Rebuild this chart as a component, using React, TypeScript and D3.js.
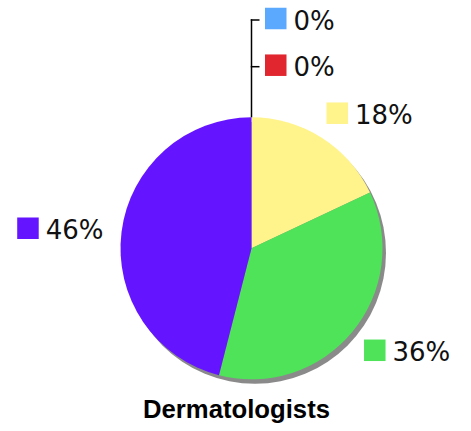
import React, { useRef, useEffect } from 'react';
import * as d3 from 'd3';

const W = 471;
const H = 431;

const labels = ['0%', '0%', '18%', '36%', '46%'];
const values = [0, 0, 18, 36, 46];
const colors = ['#5aa9ff', '#e1262f', '#fff38c', '#4fe35a', '#6514ff'];
const title = 'Dermatologists';

export default function App() {
    const svgRef = useRef<SVGSVGElement>(null);

    useEffect(() => {
        const svg = d3.select(svgRef.current);
        svg.selectAll('*').remove();

        const cx = 251.5;
        const cy = 248.3;
        const r = 131;
        const labelR = 160;

        const slices = values.map((v, i) => ({ v, label: labels[i], color: colors[i] }));
        const pie = d3.pie<any>().value(d => d.v).sort(null);
        const arcs = pie(slices);
        const arc = d3.arc<any>().innerRadius(0).outerRadius(r);

        const g = svg.append('g').attr('transform', `translate(${cx},${cy})`);

        // drop shadow
        g.append('circle')
            .attr('cx', 3.5).attr('cy', 4.5).attr('r', r)
            .attr('fill', '#8a8a8a');

        g.selectAll('path.slice')
            .data(arcs.filter(a => a.data.v > 0))
            .join('path')
            .attr('class', 'slice')
            .attr('d', arc)
            .attr('fill', d => d.data.color);

        // zero-size slices get stacked labels on a leader line above the pie
        const zeros = arcs.filter(a => a.data.v === 0);
        const step = 46.7;
        const sq = 21.5;
        const fontSize = 26;
        const font = '"DejaVu Sans", Verdana, sans-serif';
        const topY = -r - 50.6 - step * (zeros.length - 1);
        const zeroY = (idx: number) => topY + idx * step;

        if (zeros.length) {
            g.append('line')
                .attr('x1', 0).attr('x2', 0)
                .attr('y1', -r).attr('y2', topY - 0.75)
                .attr('stroke', '#000').attr('stroke-width', 1.5);
            zeros.forEach((_, i) => {
                g.append('line')
                    .attr('x1', -0.75).attr('x2', 8)
                    .attr('y1', zeroY(i)).attr('y2', zeroY(i))
                    .attr('stroke', '#000').attr('stroke-width', 1.5);
            });
        }

        arcs.forEach(a => {
            let x: number, y: number, right: boolean;
            if (a.data.v === 0) {
                const idx = zeros.indexOf(a);
                x = 13.5 + sq / 2;
                y = zeroY(idx) - 1.5;
                right = true;
            } else {
                const mid = (a.startAngle + a.endAngle) / 2;
                x = labelR * Math.sin(mid);
                y = -labelR * Math.cos(mid);
                right = x >= 0;
            }
            const lg = g.append('g');
            const t = lg.append('text')
                .attr('font-family', font)
                .attr('font-size', fontSize)
                .attr('fill', '#111')
                .attr('dominant-baseline', 'central')
                .text(a.data.label);
            const tw = (t.node() as SVGTextElement).getComputedTextLength();
            const gap = 7;
            const total = sq + gap + tw;
            const x0 = right ? x - sq / 2 : x + sq / 2 - total;
            lg.append('rect')
                .attr('x', x0).attr('y', y - sq / 2)
                .attr('width', sq).attr('height', sq)
                .attr('fill', a.data.color);
            t.attr('x', x0 + sq + gap).attr('y', y + 2);
        });

        svg.append('text')
            .attr('x', 143).attr('y', 418)
            .attr('font-family', '"Liberation Sans", Arial, sans-serif')
            .attr('font-weight', 'bold')
            .attr('font-size', 25)
            .attr('textLength', 187)
            .attr('lengthAdjust', 'spacingAndGlyphs')
            .attr('fill', '#000')
            .text(title);
    }, []);

    return (
        <div style={{ position: 'absolute', left: 0, top: 0 }}>
            <svg ref={svgRef} width={W} height={H} />
        </div>
    );
}
